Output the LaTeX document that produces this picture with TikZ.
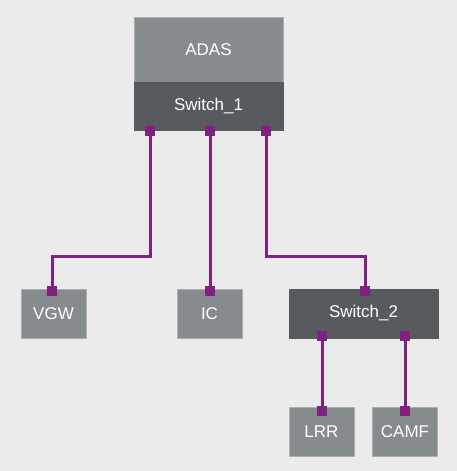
\documentclass[tikz,border=0pt]{standalone}
\usepackage{fontspec}
\setmainfont{Liberation Sans}
\definecolor{bgcol}{HTML}{EBEBEB}
\definecolor{lightbox}{HTML}{868B8E}
\definecolor{darkbox}{HTML}{575B5E}
\definecolor{wirecol}{HTML}{80207F}
\tikzset{
  ecu/.style={fill=lightbox,draw=lightbox!70!white,line width=.8pt,text=white,inner sep=0pt,
    minimum width=65pt,minimum height=49pt,font=\fontsize{17}{20}\selectfont},
  swbox/.style={ecu,fill=darkbox,draw=darkbox,minimum width=149pt},
  port/.style={fill=wirecol,inner sep=0pt,minimum size=10pt},
  wire/.style={draw=wirecol,line width=3pt}
}
\begin{document}
\begin{tikzpicture}[x=1pt,y=-1pt]
\fill[bgcol](0,0)rectangle(457,471);
\useasboundingbox(0,0)rectangle(457,471);
% top unit
\node[ecu,minimum width=149pt,minimum height=65pt](adas)at(208.5,49.5){ADAS};
\node[swbox,minimum height=48pt](sw1)at(208.5,106){Switch\_1};
% lower units
\node[ecu](vgw)at(53.5,313.5){VGW};
\node[ecu](ic)at(209.5,313.5){IC};
\node[swbox](sw2)at(363.5,313.5){Switch\_2};
\node[ecu](lrr)at(321.5,431.5){LRR};
\node[ecu](camf)at(405,431.5){CAMF};
% wires
\draw[wire](150,131)coordinate(a)--(a|-0,256)-|(52,291)coordinate(b);
\draw[wire](210,131)coordinate(c)--(210,291)coordinate(d);
\draw[wire](266,131)coordinate(e)--(e|-0,256)-|(365,291)coordinate(f);
\draw[wire](322,336)coordinate(g)--(322,411)coordinate(h);
\draw[wire](405,336)coordinate(i)--(405,411)coordinate(j);
% ports
\foreach \p in {a,b,c,d,e,f,g,h,i,j}
  \node[port]at(\p){};
\end{tikzpicture}
\end{document}
